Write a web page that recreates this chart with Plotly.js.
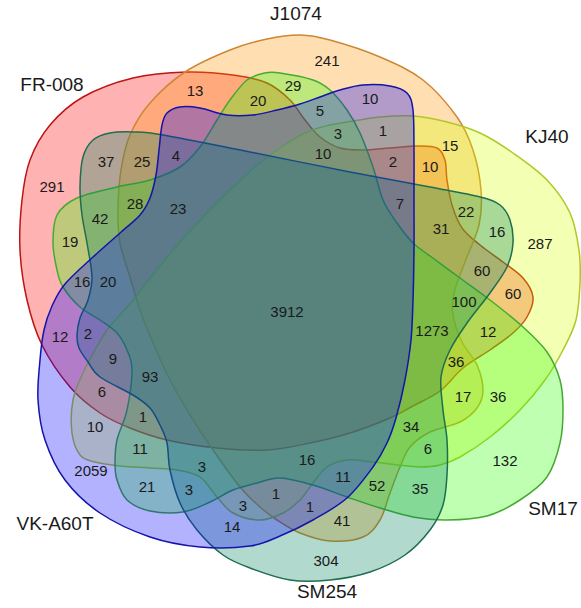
<!DOCTYPE html>
<html>
<head>
<meta charset="utf-8">
<script src="https://cdn.plot.ly/plotly-3.0.1.min.js"></script>
<style>html,body{margin:0;padding:0;background:#fff}#chart{width:581px;height:608px}</style>
</head>
<body>
<div id="chart"></div>
<script>
// ---- data ----
const setNames = ["FR-008", "J1074", "KJ40", "SM17", "SM254", "VK-A60T"];
const regionCounts = [291,13,20,29,241,10,5,3,1,10,2,15,10,7,22,16,31,287,60,60,100,1273,12,36,17,36,34,6,132,16,11,52,35,1,41,304,3912,37,25,4,28,23,42,19,16,20,12,2,9,93,6,1,10,11,3,2059,21,3,1,3,14];

// ---- label positions (pixel space of the diagram) ----
const regionX = [52,195,258,293,327,370,320,338,383,323,393,450,430,400,466,497,441,540,482,513,464,432,488,456,463,498,411,428,505,307,343,377,420,310,342,326,287,106,142,176,135,178,100,70,82,108,60,88,113,150,102,143,95,140,202,91,147,189,276,243,232];
const regionY = [188,92,102,87,62,100,112,135,132,155,163,147,168,205,213,233,230,245,272,295,303,332,333,363,398,398,428,450,462,461,478,487,490,508,522,562,313,163,163,157,205,210,220,243,283,283,338,335,360,378,393,418,428,450,468,472,488,491,495,507,528];
const nameX = [52,296,547,553,327,55];
const nameY = [86,15,138,510,593,525];

// ---- outlines ----
const outlineFR = [[187,72],[233,75],[267,83],[290,100],[305,120],[320,137],[340,148],[363,150],[390,148],[417,146],[437,148],[445,160],[447,180],[452,205],[462,228],[480,245],[503,262],[523,278],[533,297],[527,317],[513,333],[490,350],[463,368],[440,391],[413,406],[390,418],[350,433],[310,443],[267,450],[217,448],[167,440],[130,428],[100,413],[70,387],[42,345],[27,300],[20,250],[22,200],[30,160],[50,125],[83,97],[133,78]];
const outlineJ = [[300,35],[330,40],[380,57],[423,80],[457,117],[473,150],[481,190],[479,225],[465,262],[454,293],[453,315],[462,342],[477,365],[483,390],[477,408],[460,422],[430,432],[410,447],[400,467],[390,493],[380,520],[363,537],[330,541],[300,533],[277,520],[260,507],[240,487],[213,450],[190,415],[170,380],[153,343],[140,310],[130,277],[120,243],[118,210],[121,170],[130,135],[150,103],[185,72],[230,50],[267,39]];
const outlineKJ = [[133,300],[155,272],[180,242],[205,215],[230,190],[255,167],[280,148],[307,132],[330,125],[347,122],[380,117],[413,116],[447,122],[480,133],[513,153],[547,180],[570,213],[579,250],[580,283],[576,320],[563,350],[545,380],[520,410],[490,437],[460,457],[440,465],[420,467],[397,465],[373,462],[347,460],[327,467],[313,483],[300,500],[283,513],[260,520],[233,513],[217,497],[200,477],[177,470],[150,468],[120,466],[95,462],[80,455],[72,433],[73,400],[83,373],[95,350],[107,330],[120,315]];
const outlineSM17 = [[280,73],[313,80],[330,90],[347,110],[360,133],[373,167],[383,200],[397,223],[413,243],[430,256],[460,278],[490,300],[523,327],[547,352],[560,380],[563,410],[560,443],[547,477],[520,500],[487,516],[447,520],[413,517],[380,508],[347,497],[313,485],[280,478],[257,483],[233,490],[210,502],[183,512],[150,511],[127,500],[117,480],[115,463],[117,440],[127,410],[132,370],[127,350],[117,333],[100,320],[80,307],[63,287],[57,270],[53,243],[57,215],[77,198],[117,187],[150,180],[180,167],[200,147],[217,120],[230,100],[247,80],[265,73]];
const outlineSM254 = [[110,133],[133,132],[163,135],[250,152],[350,172],[430,187],[480,197],[500,205],[510,220],[513,243],[507,267],[490,293],[467,323],[450,350],[441,377],[443,410],[447,440],[447,475],[443,505],[430,530],[405,555],[370,572],[330,580],[290,580],[250,568],[223,555],[197,530],[180,503],[170,470],[167,443],[160,425],[150,408],[133,395],[100,377],[88,362],[79,348],[77,335],[80,318],[88,300],[92,277],[87,243],[82,215],[80,187],[83,157],[93,140]];
const outlineVK = [[167,113],[180,107],[200,108],[227,115],[253,115],[277,110],[300,104],[320,97],[340,90],[363,85],[390,86],[407,93],[413,110],[414,150],[414,200],[414,250],[413,300],[411,340],[405,380],[396,418],[387,443],[373,467],[347,498],[313,520],[280,536],[250,546],[200,547],[150,537],[100,513],[65,480],[45,440],[38,400],[40,360],[44,330],[52,306],[65,284],[93,257],[120,233],[140,215],[150,198],[156,175],[159,150],[162,125]];

const fills = ["rgba(255,0,0,0.3)","rgba(255,150,0,0.3)","rgba(215,255,0,0.3)","rgba(40,255,0,0.3)","rgba(0,128,90,0.3)","rgba(0,0,255,0.3)"];
const strokes = ["rgb(190,20,20)","rgb(205,135,50)","rgb(175,200,40)","rgb(70,170,50)","rgb(30,110,80)","rgb(20,20,170)"];

function closedPath(pts){
  const n = pts.length;
  const f = v => v.toFixed(2);
  let d = "M" + f(pts[0][0]) + "," + f(pts[0][1]);
  for (let i = 0; i < n; i++) {
    const p0 = pts[(i-1+n)%n], p1 = pts[i], p2 = pts[(i+1)%n], p3 = pts[(i+2)%n];
    const c1x = p1[0] + (p2[0]-p0[0])/6, c1y = p1[1] + (p2[1]-p0[1])/6;
    const c2x = p2[0] - (p3[0]-p1[0])/6, c2y = p2[1] - (p3[1]-p1[1])/6;
    d += " C" + f(c1x)+","+f(c1y)+" "+f(c2x)+","+f(c2y)+" "+f(p2[0])+","+f(p2[1]);
  }
  return d + " Z";
}

const outlines = [outlineFR, outlineJ, outlineKJ, outlineSM17, outlineSM254, outlineVK];
const shapes = outlines.map((pts, i) => ({
  type: "path", xref: "x", yref: "y", layer: "below",
  path: closedPath(pts),
  fillcolor: fills[i],
  line: {color: strokes[i], width: 1.5}
}));

const font = "Liberation Sans, Arial, sans-serif";
const traces = [
  {
    type: "scatter", mode: "text",
    x: regionX, y: regionY,
    text: regionCounts.map(String),
    textposition: "middle center",
    textfont: {family: font, size: 15, color: "#1a1a1a"},
    hoverinfo: "skip", showlegend: false
  },
  {
    type: "scatter", mode: "text",
    x: nameX, y: nameY,
    text: setNames,
    textposition: "middle center",
    textfont: {family: font, size: 19, color: "#1a1a1a"},
    hoverinfo: "skip", showlegend: false
  }
];

const layout = {
  width: 581, height: 608,
  margin: {l: 0, r: 0, t: 0, b: 0},
  paper_bgcolor: "#fff", plot_bgcolor: "#fff",
  xaxis: {range: [0, 581], visible: false, fixedrange: true},
  yaxis: {range: [608, 0], visible: false, fixedrange: true},
  shapes: shapes,
  showlegend: false
};

Plotly.newPlot("chart", traces, layout, {staticPlot: true, displayModeBar: false});
</script>
</body>
</html>
